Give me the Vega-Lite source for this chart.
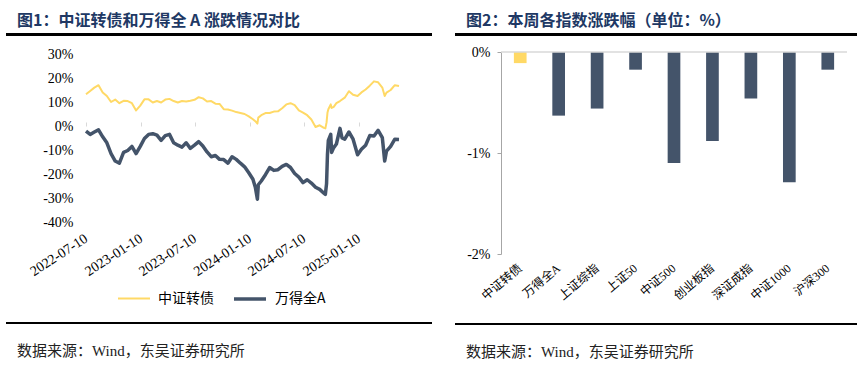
{
  "$schema": "https://vega.github.io/schema/vega-lite/v6.json",
  "background": "white",
  "padding": {"left": 6, "top": 12, "right": 0, "bottom": 0},
  "config": {"font": "Liberation Serif", "view": {"stroke": null}},
  "spacing": 23,
  "resolve": {"scale": {"color": "independent", "strokeWidth": "independent"}, "legend": {"color": "independent", "strokeWidth": "independent"}},
  "hconcat": [
    {
      "spacing": 7,
      "resolve": {"scale": {"color": "independent", "strokeWidth": "independent"}, "legend": {"color": "independent", "strokeWidth": "independent"}},
      "vconcat": [
        {
          "width": 426, "height": 3,
          "view": {"fill": "#000000", "stroke": null},
          "title": {"text": "图1：中证转债和万得全 A 涨跌情况对比", "anchor": "start", "dx": 11, "offset": 0, "font": "Noto Sans CJK SC", "fontSize": 16, "fontWeight": "bold", "color": "#203864"},
          "data": {"values": [{}]},
          "mark": {"type": "text"},
          "encoding": {"text": {"value": ""}}
        },
        {
          "spacing": 0,
          "resolve": {"scale": {"color": "independent", "strokeWidth": "independent"}, "legend": {"color": "independent", "strokeWidth": "independent"}},
          "hconcat": [
            {"width": 1, "height": 1, "data": {"values": [{}]}, "mark": {"type": "text"}, "encoding": {"text": {"value": ""}}},
            {
              "width": 313, "height": 168,
              "layer": [
                {
                  "data": {"values": [{}]},
                  "mark": {"type": "rule", "color": "#D9D9D9", "strokeWidth": 1.5},
                  "encoding": {
                    "y": {"datum": 0, "type": "quantitative", "scale": {"domain": [-40, 30], "nice": false},
                      "axis": {"title": null, "domain": false, "ticks": false, "grid": false, "values": [-40, -30, -20, -10, 0, 10, 20, 30], "labelExpr": "datum.value + '%'", "labelOverlap": false, "labelPadding": 13, "labelFont": "Liberation Serif", "labelFontSize": 14, "labelColor": "#000000", "minExtent": 79}},
                    "x": {"datum": "2022-07-10", "type": "temporal", "axis": {"orient": "top", "offset": -72, "labels": false, "domain": false, "ticks": true, "tickSize": 4, "tickColor": "#D9D9D9", "grid": false, "title": null, "values": ["2022-07-10", "2023-01-10", "2023-07-10", "2024-01-10", "2024-07-10", "2025-01-10"]}},
                    "x2": {"datum": "2025-05-25"}
                  }
                },
                {
                  "data": {"values": [
                    {"s": "万得全A", "d": "2022-07-10", "v": -2.1}, {"s": "万得全A", "d": "2022-07-24", "v": -3.5}, {"s": "万得全A", "d": "2022-08-07", "v": -2.5}, {"s": "万得全A", "d": "2022-08-21", "v": -1.6}, {"s": "万得全A", "d": "2022-09-04", "v": -4.5}, {"s": "万得全A", "d": "2022-09-18", "v": -7}, {"s": "万得全A", "d": "2022-10-02", "v": -11.5}, {"s": "万得全A", "d": "2022-10-16", "v": -14.6}, {"s": "万得全A", "d": "2022-10-30", "v": -15.5}, {"s": "万得全A", "d": "2022-11-13", "v": -11}, {"s": "万得全A", "d": "2022-11-27", "v": -10.2}, {"s": "万得全A", "d": "2022-12-11", "v": -8.5}, {"s": "万得全A", "d": "2022-12-25", "v": -11.5},
                    {"s": "万得全A", "d": "2023-01-08", "v": -8.5}, {"s": "万得全A", "d": "2023-01-22", "v": -5.2}, {"s": "万得全A", "d": "2023-02-05", "v": -3.5}, {"s": "万得全A", "d": "2023-02-19", "v": -3.2}, {"s": "万得全A", "d": "2023-03-05", "v": -3.8}, {"s": "万得全A", "d": "2023-03-19", "v": -6}, {"s": "万得全A", "d": "2023-04-02", "v": -4}, {"s": "万得全A", "d": "2023-04-16", "v": -3.5}, {"s": "万得全A", "d": "2023-04-30", "v": -7}, {"s": "万得全A", "d": "2023-05-14", "v": -8}, {"s": "万得全A", "d": "2023-05-28", "v": -8.8}, {"s": "万得全A", "d": "2023-06-11", "v": -7}, {"s": "万得全A", "d": "2023-06-25", "v": -9.3}, {"s": "万得全A", "d": "2023-07-09", "v": -8}, {"s": "万得全A", "d": "2023-07-23", "v": -6.5}, {"s": "万得全A", "d": "2023-08-06", "v": -8.3}, {"s": "万得全A", "d": "2023-08-20", "v": -10.8}, {"s": "万得全A", "d": "2023-09-03", "v": -12.8}, {"s": "万得全A", "d": "2023-09-17", "v": -12.3}, {"s": "万得全A", "d": "2023-10-01", "v": -13.9}, {"s": "万得全A", "d": "2023-10-15", "v": -14}, {"s": "万得全A", "d": "2023-10-29", "v": -15.5}, {"s": "万得全A", "d": "2023-11-12", "v": -12.8}, {"s": "万得全A", "d": "2023-11-26", "v": -13.9}, {"s": "万得全A", "d": "2023-12-10", "v": -15.5}, {"s": "万得全A", "d": "2023-12-24", "v": -17},
                    {"s": "万得全A", "d": "2024-01-07", "v": -19.5}, {"s": "万得全A", "d": "2024-01-21", "v": -22.2}, {"s": "万得全A", "d": "2024-01-29", "v": -25.5}, {"s": "万得全A", "d": "2024-02-05", "v": -30.5}, {"s": "万得全A", "d": "2024-02-08", "v": -24.5}, {"s": "万得全A", "d": "2024-02-18", "v": -22.9}, {"s": "万得全A", "d": "2024-03-03", "v": -20.3}, {"s": "万得全A", "d": "2024-03-17", "v": -17.3}, {"s": "万得全A", "d": "2024-03-31", "v": -18.5}, {"s": "万得全A", "d": "2024-04-14", "v": -18.2}, {"s": "万得全A", "d": "2024-04-28", "v": -16.8}, {"s": "万得全A", "d": "2024-05-12", "v": -16}, {"s": "万得全A", "d": "2024-05-26", "v": -17.3}, {"s": "万得全A", "d": "2024-06-09", "v": -19.8}, {"s": "万得全A", "d": "2024-06-23", "v": -21.3}, {"s": "万得全A", "d": "2024-07-07", "v": -23.6}, {"s": "万得全A", "d": "2024-07-21", "v": -22.4}, {"s": "万得全A", "d": "2024-08-04", "v": -23.8}, {"s": "万得全A", "d": "2024-08-18", "v": -25.5}, {"s": "万得全A", "d": "2024-09-01", "v": -26.4}, {"s": "万得全A", "d": "2024-09-15", "v": -28}, {"s": "万得全A", "d": "2024-09-20", "v": -28.5}, {"s": "万得全A", "d": "2024-09-24", "v": -24}, {"s": "万得全A", "d": "2024-09-27", "v": -12}, {"s": "万得全A", "d": "2024-09-30", "v": -6}, {"s": "万得全A", "d": "2024-10-08", "v": -3.5}, {"s": "万得全A", "d": "2024-10-11", "v": -11}, {"s": "万得全A", "d": "2024-10-18", "v": -9}, {"s": "万得全A", "d": "2024-10-27", "v": -7.5}, {"s": "万得全A", "d": "2024-11-08", "v": -1}, {"s": "万得全A", "d": "2024-11-15", "v": -5}, {"s": "万得全A", "d": "2024-11-24", "v": -5.5}, {"s": "万得全A", "d": "2024-12-08", "v": -2.5}, {"s": "万得全A", "d": "2024-12-22", "v": -5.5},
                    {"s": "万得全A", "d": "2025-01-06", "v": -12}, {"s": "万得全A", "d": "2025-01-19", "v": -9.7}, {"s": "万得全A", "d": "2025-02-02", "v": -8}, {"s": "万得全A", "d": "2025-02-16", "v": -4}, {"s": "万得全A", "d": "2025-03-02", "v": -4.2}, {"s": "万得全A", "d": "2025-03-16", "v": -1.8}, {"s": "万得全A", "d": "2025-03-30", "v": -4.8}, {"s": "万得全A", "d": "2025-04-07", "v": -14.6}, {"s": "万得全A", "d": "2025-04-13", "v": -10.5}, {"s": "万得全A", "d": "2025-04-27", "v": -8.5}, {"s": "万得全A", "d": "2025-05-11", "v": -5.5}, {"s": "万得全A", "d": "2025-05-25", "v": -5.6},
                    {"s": "中证转债", "d": "2022-07-10", "v": 13.2}, {"s": "中证转债", "d": "2022-07-24", "v": 14.6}, {"s": "中证转债", "d": "2022-08-07", "v": 16}, {"s": "中证转债", "d": "2022-08-21", "v": 17}, {"s": "中证转债", "d": "2022-09-04", "v": 14}, {"s": "中证转债", "d": "2022-09-18", "v": 12.5}, {"s": "中证转债", "d": "2022-10-02", "v": 10}, {"s": "中证转债", "d": "2022-10-16", "v": 11}, {"s": "中证转债", "d": "2022-10-30", "v": 9.5}, {"s": "中证转债", "d": "2022-11-13", "v": 10.5}, {"s": "中证转债", "d": "2022-11-27", "v": 10.4}, {"s": "中证转债", "d": "2022-12-11", "v": 9.5}, {"s": "中证转债", "d": "2022-12-25", "v": 6.5},
                    {"s": "中证转债", "d": "2023-01-08", "v": 8.5}, {"s": "中证转债", "d": "2023-01-22", "v": 11.1}, {"s": "中证转债", "d": "2023-02-05", "v": 11.1}, {"s": "中证转债", "d": "2023-02-19", "v": 9.8}, {"s": "中证转债", "d": "2023-03-05", "v": 10.4}, {"s": "中证转债", "d": "2023-03-19", "v": 9.8}, {"s": "中证转债", "d": "2023-04-02", "v": 11}, {"s": "中证转债", "d": "2023-04-16", "v": 11.3}, {"s": "中证转债", "d": "2023-04-30", "v": 10.4}, {"s": "中证转债", "d": "2023-05-14", "v": 9.8}, {"s": "中证转债", "d": "2023-05-28", "v": 10.4}, {"s": "中证转债", "d": "2023-06-11", "v": 10.2}, {"s": "中证转债", "d": "2023-06-25", "v": 10.5}, {"s": "中证转债", "d": "2023-07-09", "v": 10.9}, {"s": "中证转债", "d": "2023-07-23", "v": 12}, {"s": "中证转债", "d": "2023-08-06", "v": 11.5}, {"s": "中证转债", "d": "2023-08-20", "v": 10.2}, {"s": "中证转债", "d": "2023-09-03", "v": 10.4}, {"s": "中证转债", "d": "2023-09-17", "v": 9.3}, {"s": "中证转债", "d": "2023-10-01", "v": 9.2}, {"s": "中证转债", "d": "2023-10-15", "v": 7}, {"s": "中证转债", "d": "2023-10-29", "v": 6.9}, {"s": "中证转债", "d": "2023-11-12", "v": 6.4}, {"s": "中证转债", "d": "2023-11-26", "v": 5.8}, {"s": "中证转债", "d": "2023-12-10", "v": 5.4}, {"s": "中证转债", "d": "2023-12-24", "v": 5},
                    {"s": "中证转债", "d": "2024-01-07", "v": 4}, {"s": "中证转债", "d": "2024-01-21", "v": 2.8}, {"s": "中证转债", "d": "2024-01-29", "v": 2}, {"s": "中证转债", "d": "2024-02-05", "v": 1}, {"s": "中证转债", "d": "2024-02-08", "v": 3.5}, {"s": "中证转债", "d": "2024-02-18", "v": 4.5}, {"s": "中证转债", "d": "2024-03-03", "v": 5.4}, {"s": "中证转债", "d": "2024-03-17", "v": 5.4}, {"s": "中证转债", "d": "2024-03-31", "v": 6}, {"s": "中证转债", "d": "2024-04-14", "v": 6.1}, {"s": "中证转债", "d": "2024-04-28", "v": 7.4}, {"s": "中证转债", "d": "2024-05-12", "v": 9}, {"s": "中证转债", "d": "2024-05-26", "v": 9.5}, {"s": "中证转债", "d": "2024-06-09", "v": 8.7}, {"s": "中证转债", "d": "2024-06-23", "v": 6.5}, {"s": "中证转债", "d": "2024-07-07", "v": 5.6}, {"s": "中证转债", "d": "2024-07-21", "v": 4.5}, {"s": "中证转债", "d": "2024-08-04", "v": 2.7}, {"s": "中证转债", "d": "2024-08-18", "v": -0.4}, {"s": "中证转债", "d": "2024-09-01", "v": 0.3}, {"s": "中证转债", "d": "2024-09-15", "v": -0.8}, {"s": "中证转债", "d": "2024-09-20", "v": -1}, {"s": "中证转债", "d": "2024-09-24", "v": 1.5}, {"s": "中证转债", "d": "2024-09-27", "v": 5.5}, {"s": "中证转债", "d": "2024-09-30", "v": 7}, {"s": "中证转债", "d": "2024-10-08", "v": 9}, {"s": "中证转债", "d": "2024-10-11", "v": 7.5}, {"s": "中证转债", "d": "2024-10-18", "v": 8}, {"s": "中证转债", "d": "2024-10-27", "v": 9.5}, {"s": "中证转债", "d": "2024-11-08", "v": 10.4}, {"s": "中证转债", "d": "2024-11-24", "v": 11.8}, {"s": "中证转债", "d": "2024-12-08", "v": 14.5}, {"s": "中证转债", "d": "2024-12-22", "v": 13},
                    {"s": "中证转债", "d": "2025-01-06", "v": 12.5}, {"s": "中证转债", "d": "2025-01-19", "v": 14}, {"s": "中证转债", "d": "2025-02-02", "v": 15.2}, {"s": "中证转债", "d": "2025-02-16", "v": 16.8}, {"s": "中证转债", "d": "2025-03-02", "v": 18.6}, {"s": "中证转债", "d": "2025-03-16", "v": 18.2}, {"s": "中证转债", "d": "2025-03-30", "v": 16}, {"s": "中证转债", "d": "2025-04-07", "v": 12.5}, {"s": "中证转债", "d": "2025-04-13", "v": 13.9}, {"s": "中证转债", "d": "2025-04-27", "v": 15}, {"s": "中证转债", "d": "2025-05-11", "v": 17}, {"s": "中证转债", "d": "2025-05-25", "v": 16.7}
                  ]},
                  "mark": {"type": "line", "strokeJoin": "round"},
                  "encoding": {
                    "x": {"field": "d", "type": "temporal", "scale": {"type": "utc", "domain": ["2022-07-10", "2025-05-25"]},
                      "axis": {"orient": "bottom", "title": null, "domain": false, "ticks": false, "grid": false, "values": ["2022-07-10", "2023-01-10", "2023-07-10", "2024-01-10", "2024-07-10", "2025-01-10"], "format": "%Y-%m-%d", "labelAngle": -33, "labelAlign": "right", "labelBaseline": "middle", "labelPadding": 15, "labelFont": "Liberation Serif", "labelFontSize": 14, "labelColor": "#000000", "labelOverlap": false, "labelFlush": false}},
                    "y": {"field": "v", "type": "quantitative", "scale": {"domain": [-40, 30], "nice": false},
                      "axis": {"title": null, "domain": false, "ticks": false, "grid": false, "values": [-40, -30, -20, -10, 0, 10, 20, 30], "labelExpr": "datum.value + '%'", "labelOverlap": false, "labelPadding": 13, "labelFont": "Liberation Serif", "labelFontSize": 14, "labelColor": "#000000", "minExtent": 79}},
                    "color": {"field": "s", "type": "nominal", "scale": {"domain": ["中证转债", "万得全A"], "range": ["#FFD966", "#44546A"]},
                      "legend": {"orient": "none", "legendX": 27, "legendY": 223, "padding": 4, "direction": "horizontal", "title": null, "symbolType": "stroke", "symbolSize": 1024, "symbolStrokeWidth": 3, "labelFont": "Noto Sans CJK SC", "labelFontSize": 14, "labelColor": "#000000", "columnPadding": 13, "labelOffset": 7}},
                    "strokeWidth": {"field": "s", "type": "nominal", "scale": {"domain": ["中证转债", "万得全A"], "range": [2, 3.5]}, "legend": null}
                  }
                }
              ]
            }
          ]
        },
        {
          "width": 426, "height": 2,
          "view": {"fill": "#000000", "stroke": null},
          "title": {"text": "数据来源：Wind，东吴证券研究所", "orient": "bottom", "anchor": "start", "dx": 11, "offset": 16, "font": "Liberation Serif, Noto Sans CJK SC", "fontSize": 15, "fontWeight": "normal", "color": "#222222"},
          "data": {"values": [{}]},
          "mark": {"type": "text"},
          "encoding": {"text": {"value": ""}}
        }
      ]
    },
    {
      "spacing": 5,
      "vconcat": [
        {
          "width": 402, "height": 3,
          "view": {"fill": "#000000", "stroke": null},
          "title": {"text": "图2：本周各指数涨跌幅（单位：%）", "anchor": "start", "dx": 11, "offset": 0, "font": "Noto Sans CJK SC", "fontSize": 16, "fontWeight": "bold", "color": "#203864"},
          "data": {"values": [{}]},
          "mark": {"type": "text"},
          "encoding": {"text": {"value": ""}}
        },
        {
          "spacing": 0,
          "hconcat": [
            {"width": 1, "height": 1, "data": {"values": [{}]}, "mark": {"type": "text"}, "encoding": {"text": {"value": ""}}},
            {
              "width": 346, "height": 202,
              "layer": [
                {
                  "data": {"values": [
                    {"name": "中证转债", "v": -0.11},
                    {"name": "万得全A", "v": -0.63},
                    {"name": "上证综指", "v": -0.56},
                    {"name": "上证50", "v": -0.175},
                    {"name": "中证500", "v": -1.10},
                    {"name": "创业板指", "v": -0.88},
                    {"name": "深证成指", "v": -0.46},
                    {"name": "中证1000", "v": -1.29},
                    {"name": "沪深300", "v": -0.175}
                  ]},
                  "mark": {"type": "bar", "width": {"band": 0.33}},
                  "encoding": {
                    "x": {"field": "name", "type": "nominal", "sort": null, "scale": {"paddingInner": 0, "paddingOuter": 0},
                      "axis": {"title": null, "domain": false, "ticks": false, "labelAngle": -40, "labelAlign": "right", "labelBaseline": "middle", "labelPadding": 12, "labelFont": "Liberation Serif, Noto Sans CJK SC", "labelFontSize": 12, "labelColor": "#000000", "minExtent": 59}},
                    "y": {"field": "v", "type": "quantitative", "scale": {"domain": [-2, 0], "nice": false},
                      "axis": {"title": null, "grid": false, "values": [0, -1, -2], "labelExpr": "datum.value + '%'", "domain": true, "domainColor": "#A6A6A6", "ticks": true, "tickSize": 4, "tickColor": "#A6A6A6", "labelPadding": 7, "labelOverlap": false, "labelFont": "Liberation Serif", "labelFontSize": 14, "labelColor": "#000000", "minExtent": 45}},
                    "color": {"condition": {"test": "datum.name === '中证转债'", "value": "#FFD966"}, "value": "#44546A"}
                  }
                },
                {
                  "data": {"values": [{}]},
                  "mark": {"type": "rule", "color": "#D9D9D9", "strokeWidth": 1.5},
                  "encoding": {"y": {"datum": 0, "type": "quantitative", "scale": {"domain": [-2, 0], "nice": false},
                    "axis": {"title": null, "grid": false, "values": [0, -1, -2], "labelExpr": "datum.value + '%'", "domain": true, "domainColor": "#A6A6A6", "ticks": true, "tickSize": 4, "tickColor": "#A6A6A6", "labelPadding": 7, "labelOverlap": false, "labelFont": "Liberation Serif", "labelFontSize": 14, "labelColor": "#000000", "minExtent": 45}}}
                }
              ]
            }
          ]
        },
        {
          "width": 402, "height": 2,
          "view": {"fill": "#000000", "stroke": null},
          "title": {"text": "数据来源：Wind，东吴证券研究所", "orient": "bottom", "anchor": "start", "dx": 11, "offset": 16, "font": "Liberation Serif, Noto Sans CJK SC", "fontSize": 15, "fontWeight": "normal", "color": "#222222"},
          "data": {"values": [{}]},
          "mark": {"type": "text"},
          "encoding": {"text": {"value": ""}}
        }
      ]
    }
  ]
}
